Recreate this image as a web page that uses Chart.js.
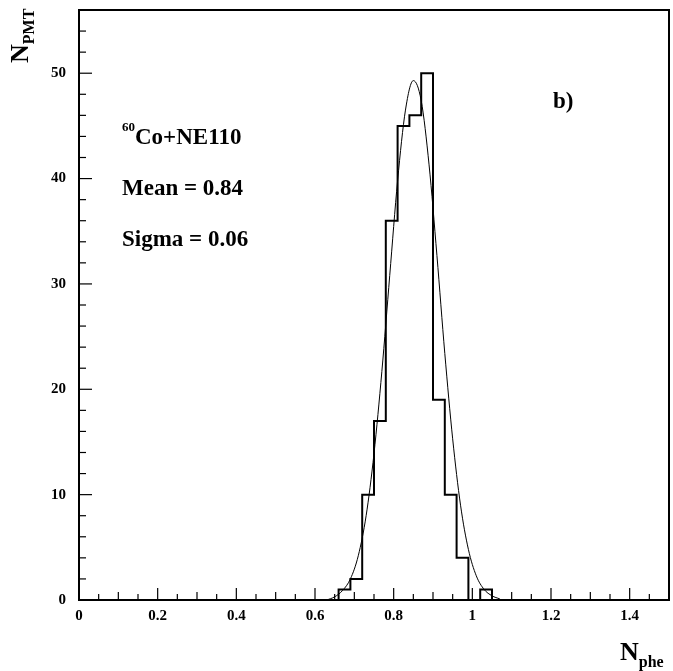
<!DOCTYPE html>
<html lang="en">
<head>
    <meta charset="UTF-8">
    <title>N_phe histogram</title>
    <script src="https://cdn.jsdelivr.net/npm/chart.js"></script>
    <style>
        body { margin: 0; padding: 0; background: #fff; }
        #wrap { width: 673px; height: 671px; }
    </style>
</head>
<body>
    <div id="wrap"><canvas id="histChart" width="673" height="671"></canvas></div>

    <script>
        // histogram bins (lower edges) and counts
        const binLow = [0.66, 0.69, 0.72, 0.75, 0.78, 0.81, 0.84, 0.87, 0.90, 0.93, 0.96, 0.99, 1.02];
        const counts = [1, 2, 10, 17, 36, 45, 46, 50, 19, 10, 4, 0, 1];
        const binWidth = 0.03;

        // fitted curve
        const fitX = [0.63, 0.65, 0.67, 0.69, 0.71, 0.73, 0.75, 0.77, 0.79, 0.81, 0.83, 0.85, 0.87, 0.89, 0.91, 0.93, 0.95, 0.97, 0.99, 1.01, 1.03, 1.05, 1.07];
        const fitY = [0.0, 0.3, 0.9, 2.0, 4.2, 8.0, 13.9, 21.7, 30.8, 39.8, 46.5, 49.3, 47.4, 41.3, 32.7, 23.4, 15.3, 9.0, 4.8, 2.3, 1.0, 0.4, 0.1];

        const notes = ['Co+NE110', 'Mean = 0.84', 'Sigma = 0.06'];

        // step outline of the histogram
        const histPts = [{ x: 0, y: 0 }];
        binLow.forEach((lo, i) => histPts.push({ x: lo, y: counts[i] }));
        histPts.push({ x: binLow[binLow.length - 1] + binWidth, y: 0 });
        histPts.push({ x: 1.5, y: 0 });

        const fitPts = fitX.map((x, i) => ({ x: x, y: fitY[i] }));

        const serif = '"Liberation Serif", "DejaVu Serif", serif';

        // frame, inside ticks, titles and notes
        const decor = {
            id: 'decor',
            afterDraw(chart) {
                const ctx = chart.ctx;
                const a = chart.chartArea;
                const xs = chart.scales.x, ys = chart.scales.y;
                ctx.save();
                ctx.strokeStyle = '#000';
                ctx.lineWidth = 1.2;
                // x ticks
                for (let i = 0; i <= 30; i++) {
                    const v = i * 0.05;
                    const px = xs.getPixelForValue(v);
                    let len = 6;
                    if (i % 4 === 0) len = 12;
                    else if (i % 2 === 0) len = 8;
                    ctx.beginPath();
                    ctx.moveTo(px, a.bottom);
                    ctx.lineTo(px, a.bottom - len);
                    ctx.stroke();
                }
                // y ticks
                for (let v = 0; v <= 54; v += 2) {
                    const py = ys.getPixelForValue(v);
                    const len = v % 10 === 0 ? 13 : 7;
                    ctx.beginPath();
                    ctx.moveTo(a.left, py);
                    ctx.lineTo(a.left + len, py);
                    ctx.stroke();
                }
                // frame
                ctx.lineWidth = 2;
                ctx.strokeRect(a.left, a.top, a.right - a.left, a.bottom - a.top);

                ctx.fillStyle = '#000';
                ctx.textBaseline = 'alphabetic';
                // y title, rotated
                ctx.save();
                ctx.translate(28, 63);
                ctx.rotate(-Math.PI / 2);
                ctx.font = 'bold 26px ' + serif;
                ctx.fillText('N', 0, 0);
                const nw = ctx.measureText('N').width;
                ctx.font = 'bold 16px ' + serif;
                ctx.fillText('PMT', nw, 6);
                ctx.restore();

                // x title
                ctx.font = 'bold 26px ' + serif;
                ctx.fillText('N', 620, 660);
                const nw2 = ctx.measureText('N').width;
                ctx.font = 'bold 16px ' + serif;
                ctx.fillText('phe', 620 + nw2, 667);

                // notes
                ctx.font = 'bold 13px ' + serif;
                ctx.fillText('60', 122, 131);
                const sw = ctx.measureText('60').width;
                ctx.font = 'bold 23px ' + serif;
                ctx.fillText(notes[0], 122 + sw, 144);
                ctx.fillText(notes[1], 122, 195);
                ctx.fillText(notes[2], 122, 246);
                ctx.fillText('b)', 553, 108);
                ctx.restore();
            }
        };

        const ctx1 = document.getElementById('histChart').getContext('2d');
        const histChart = new Chart(ctx1, {
            type: 'line',
            data: {
                datasets: [{
                    label: 'counts',
                    data: histPts,
                    stepped: 'before',
                    borderColor: '#000',
                    borderWidth: 2,
                    pointRadius: 0,
                    fill: false
                }, {
                    label: 'fit',
                    data: fitPts,
                    borderColor: '#000',
                    borderWidth: 1,
                    pointRadius: 0,
                    tension: 0.4,
                    cubicInterpolationMode: 'monotone',
                    fill: false
                }]
            },
            options: {
                responsive: false,
                animation: false,
                layout: { padding: { top: 10, right: 4, left: 0, bottom: 0 } },
                plugins: { legend: { display: false }, tooltip: { enabled: false } },
                scales: {
                    x: {
                        type: 'linear',
                        min: 0, max: 1.5,
                        afterFit: s => { s.height = 71; s.paddingLeft = 0; s.paddingRight = 0; },
                        grid: { display: false, drawTicks: false },
                        border: { display: false },
                        ticks: {
                            stepSize: 0.2,
                            includeBounds: false,
                            padding: 7,
                            maxRotation: 0,
                            color: '#000',
                            font: { family: serif, size: 15, weight: 'bold' },
                            callback: v => String(Number(v.toFixed(1)))
                        }
                    },
                    y: {
                        min: 0, max: 56,
                        afterFit: s => { s.width = 79; s.paddingTop = 0; s.paddingBottom = 0; },
                        grid: { display: false, drawTicks: false },
                        border: { display: false },
                        ticks: {
                            stepSize: 10,
                            includeBounds: false,
                            padding: 13,
                            color: '#000',
                            font: { family: serif, size: 15, weight: 'bold' }
                        }
                    }
                }
            },
            plugins: [decor]
        });
    </script>
</body>
</html>
